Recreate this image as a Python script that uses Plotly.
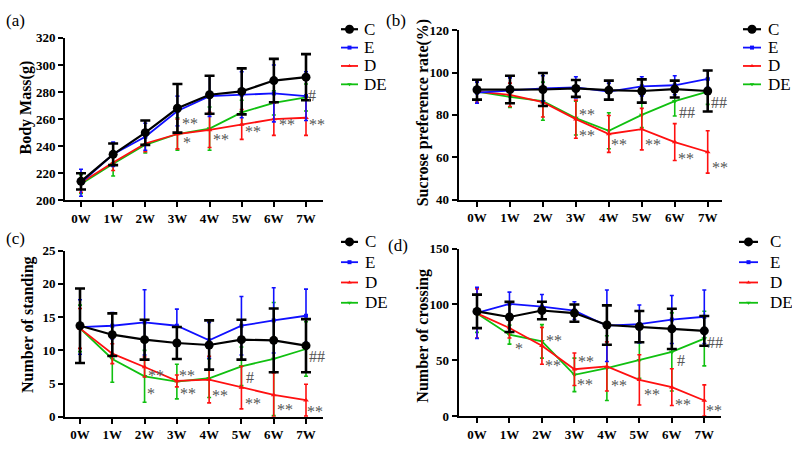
import plotly.graph_objects as go

weeks = ["0W", "1W", "2W", "3W", "4W", "5W", "6W", "7W"]
groups = ["C", "E", "D", "DE"]

# (a) Body mass
a_C = [214, 234, 250, 268, 278, 280.5, 288.5, 291]
a_C_err = [6, 8, 9, 18, 14, 17, 16, 17]
a_E = [213, 234, 247, 266, 277, 278, 279, 277]
a_E_err = [10, 9, 10, 11, 15, 17, 21, 18]
a_D = [213, 228, 242, 249, 252, 256, 260, 261]
a_D_err = [7, 6, 6, 11, 13, 11, 12, 13]
a_DE = [212, 227, 241, 249, 253, 265, 272, 276]
a_DE_err = [7, 9, 6, 12, 16, 9, 9, 10]

# (b) Sucrose preference rate
b_C = [91.9, 92, 92, 92.5, 91.7, 91.3, 92.2, 91.3]
b_C_err = [4.7, 6.5, 7.8, 4, 4.5, 5.5, 4, 9.7]
b_E = [90.5, 91.5, 92.5, 93, 91, 93.5, 94, 97]
b_E_err = [5, 6, 6, 5, 4, 4.5, 4.5, 4]
b_D = [91, 89.5, 86, 78, 71, 73.3, 67.2, 62.5]
b_D_err = [5, 5.5, 7, 9, 8.7, 9.8, 8.7, 10]
b_DE = [91, 88.5, 86.5, 78.5, 72.5, 80, 86.5, 91]
b_DE_err = [5, 5, 9, 8, 8.5, 6, 7, 6]

# (c) Number of standing
c_C = [13.7, 12.35, 11.6, 11.1, 10.8, 11.6, 11.5, 10.7]
c_C_err = [5.6, 3.2, 3, 2.4, 3.7, 3, 4.8, 4]
c_E = [13.5, 13.7, 14.2, 13.7, 11.5, 13.7, 14.5, 15.2]
c_E_err = [4.1, 2, 4.9, 2.5, 2.7, 4.4, 4.9, 4]
c_D = [13.3, 9.5, 7.5, 5.4, 5.6, 4.4, 3.3, 2.5]
c_D_err = [3, 1.5, 1.5, 0.9, 3.5, 3.2, 3.3, 2.4]
c_DE = [13.3, 8.7, 6.1, 5.3, 5.8, 7.6, 8.7, 10.2]
c_DE_err = [3.5, 3.5, 3.9, 2.6, 2.9, 2.9, 8.5, 4.1]

# (d) Number of crossing
d_C = [93.8, 88.8, 94.6, 92.3, 81.6, 80.2, 78.2, 76.4]
d_C_err = [15, 13.5, 7.8, 7.7, 17.6, 14, 18, 13.3]
d_E = [92.5, 100.6, 98, 94.5, 81, 82.5, 86.5, 89]
d_E_err = [23, 10.5, 11, 8, 32, 17, 21.5, 24]
d_D = [92, 79, 63, 42, 44.5, 32.5, 26, 14]
d_D_err = [22, 9, 16.5, 14.5, 22, 22.5, 16.5, 14]
d_DE = [92, 73, 67, 37, 43, 50, 57.5, 69.5]
d_DE_err = [17, 8.5, 15, 15, 29, 16, 35, 24.5]

# significance marks (x in week index, y in data units, text)
a_marks = [(3.39, 259, "**"), (3.29, 245, "*"), (4.35, 247.5, "**"), (5.36, 253, "**"),
           (6.4, 258, "**"), (7.33, 258, "**"), (7.2, 280, "#")]
b_marks = [(3.33, 81.5, "**"), (3.33, 71.6, "**"), (4.3, 67.4, "**"), (5.33, 67.4, "**"),
           (6.34, 60.7, "**"), (7.37, 56.4, "**"), (6.36, 82.7, "##"), (7.35, 87.1, "##")]
c_marks = [(2.34, 6.6, "**"), (2.2, 4.0, "*"), (3.32, 6.7, "**"), (3.35, 3.9, "**"),
           (4.33, 3.6, "**"), (5.37, 2.5, "**"), (5.28, 6.3, "#"), (6.35, 1.6, "**"),
           (7.28, 1.3, "**"), (7.35, 9.45, "##")]
d_marks = [(1.28, 62.9, "*"), (2.36, 70.1, "**"), (2.33, 47.9, "**"), (3.36, 51.4, "**"),
           (3.34, 31.2, "**"), (4.36, 29.7, "**"), (5.38, 21.9, "**"), (6.33, 13.3, "**"),
           (6.28, 52.8, "#"), (7.31, 8, "**"), (7.34, 68.7, "##")]

W, H = 792, 449
SERIF = "Liberation Serif"

panels = [
    dict(label="(a)", title="Body Mass(g)",
         data={"C": (a_C, a_C_err), "E": (a_E, a_E_err), "D": (a_D, a_D_err), "DE": (a_DE, a_DE_err)},
         marks=a_marks, box=(65, 323, 32, 200), ticks=(81, 306), yr=(200, 320), dt=20,
         lab=(4, 14), ttl=(26, 104), leg=(341, 358, 362, 23, 19)),
    dict(label="(b)", title="Sucrose preference rate(%)",
         data={"C": (b_C, b_C_err), "E": (b_E, b_E_err), "D": (b_D, b_D_err), "DE": (b_DE, b_DE_err)},
         marks=b_marks, box=(458.7, 722, 24, 199.3), ticks=(477, 707.7), yr=(40, 120), dt=20,
         lab=(384, 14), ttl=(423, 110), leg=(743, 761, 766, 23, 19)),
    dict(label="(c)", title="Number of standing",
         data={"C": (c_C, c_C_err), "E": (c_E, c_E_err), "D": (c_D, c_D_err), "DE": (c_DE, c_DE_err)},
         marks=c_marks, box=(65, 323, 252, 424), ticks=(80, 306), yr=(0, 25), dt=5,
         lab=(4, 240), ttl=(28, 329), leg=(341, 358, 363, 243, 21)),
    dict(label="(d)", title="Number of crossing",
         data={"C": (d_C, d_C_err), "E": (d_E, d_E_err), "D": (d_D, d_D_err), "DE": (d_DE, d_DE_err)},
         marks=d_marks, box=(458.7, 721, 250, 423.3), ticks=(477, 704.3), yr=(0, 150), dt=50,
         lab=(386, 247), ttl=(423, 340), leg=(739, 758, 768, 243, 21)),
]

styles = {
    "C": dict(color="black", lw=2.2, sym="circle", ms=9, et=2.6, ew=5, lms=9),
    "E": dict(color="#1010ff", lw=1.8, sym="square", ms=4, et=1.6, ew=2, lms=4),
    "D": dict(color="#ff1010", lw=1.8, sym="triangle-up", ms=5, et=1.6, ew=2, lms=4),
    "DE": dict(color="#10c010", lw=1.8, sym="triangle-down", ms=5, et=1.6, ew=2, lms=4),
}
draw_order = ["DE", "D", "E", "C"]

fig = go.Figure()
layout = dict(width=W, height=H, margin=dict(l=0, r=0, t=0, b=0),
              paper_bgcolor="white", plot_bgcolor="rgba(0,0,0,0)", showlegend=False)
annotations = []

for i, p in enumerate(panels):
    n = "" if i == 0 else str(i + 1)
    xa, ya = "x" + n, "y" + n
    x0, x1, y0, y1 = p["box"]
    t0, t7 = p["ticks"]
    s = (t7 - t0) / 7.0
    xr = [(x0 - t0) / s, 7 + (x1 - t7) / s]
    for g in draw_order:
        st = styles[g]
        m, e = p["data"][g]
        fig.add_trace(go.Scatter(
            x=list(range(len(weeks))), y=m, name=g, xaxis=xa, yaxis=ya,
            mode="lines+markers", cliponaxis=False,
            line=dict(color=st["color"], width=st["lw"]),
            marker=dict(symbol=st["sym"], size=st["ms"], color=st["color"]),
            error_y=dict(type="data", array=e, visible=True, color=st["color"],
                         thickness=st["et"], width=st["ew"]),
        ))
    axis_common = dict(showline=True, linecolor="black", linewidth=2, ticks="outside",
                       ticklen=5, tickwidth=2, tickcolor="black", showgrid=False,
                       zeroline=False,
                       tickfont=dict(family=SERIF, size=13, color="black", weight="bold"))
    layout["xaxis" + n] = dict(axis_common, domain=[x0 / W, x1 / W], anchor=ya, range=xr,
                               tickmode="array", tickvals=list(range(len(weeks))),
                               ticktext=weeks)
    layout["yaxis" + n] = dict(axis_common, domain=[1 - y1 / H, 1 - y0 / H], anchor=xa,
                               range=list(p["yr"]), tickmode="linear", tick0=p["yr"][0],
                               dtick=p["dt"])
    # y-axis title
    annotations.append(dict(text=p["title"], x=p["ttl"][0] / W, y=1 - p["ttl"][1] / H,
                            xref="paper", yref="paper", textangle=-90, showarrow=False,
                            xanchor="center", yanchor="middle",
                            font=dict(family=SERIF, size=16, color="black", weight="bold")))
    # panel label
    annotations.append(dict(text=p["label"], x=p["lab"][0] / W, y=1 - p["lab"][1] / H,
                            xref="paper", yref="paper", xanchor="left", yanchor="middle",
                            showarrow=False,
                            font=dict(family=SERIF, size=17, color="black")))
    # significance marks
    for (mx, my, mt) in p["marks"]:
        annotations.append(dict(text=mt, x=mx, y=my, xref=xa, yref=ya, showarrow=False,
                                xanchor="center", yanchor="middle", yshift=-3,
                                font=dict(family=SERIF, size=16, color="#555555")))
    # manual legend
    lx0, lx1, tx, ly, dy = p["leg"]
    for k, g in enumerate(groups):
        st = styles[g]
        yy = ly + k * dy
        fig.add_trace(go.Scatter(
            x=[lx0, lx1], y=[yy, yy], xaxis="x5", yaxis="y5",
            mode="lines", hoverinfo="skip",
            line=dict(color=st["color"], width=st["lw"]),
        ))
        fig.add_trace(go.Scatter(
            x=[(lx0 + lx1) / 2], y=[yy], xaxis="x5", yaxis="y5",
            mode="markers", hoverinfo="skip",
            marker=dict(symbol=st["sym"], size=st["lms"], color=st["color"]),
        ))
        annotations.append(dict(text=g, x=tx / W, y=1 - yy / H, xref="paper", yref="paper",
                                xanchor="left", yanchor="middle", showarrow=False,
                                font=dict(family=SERIF, size=17, color="black")))

layout["xaxis5"] = dict(domain=[0, 1], range=[0, W], visible=False, anchor="y5", fixedrange=True)
layout["yaxis5"] = dict(domain=[0, 1], range=[H, 0], visible=False, anchor="x5", fixedrange=True)
layout["annotations"] = annotations
fig.update_layout(**layout)
fig.write_html("out.html")
